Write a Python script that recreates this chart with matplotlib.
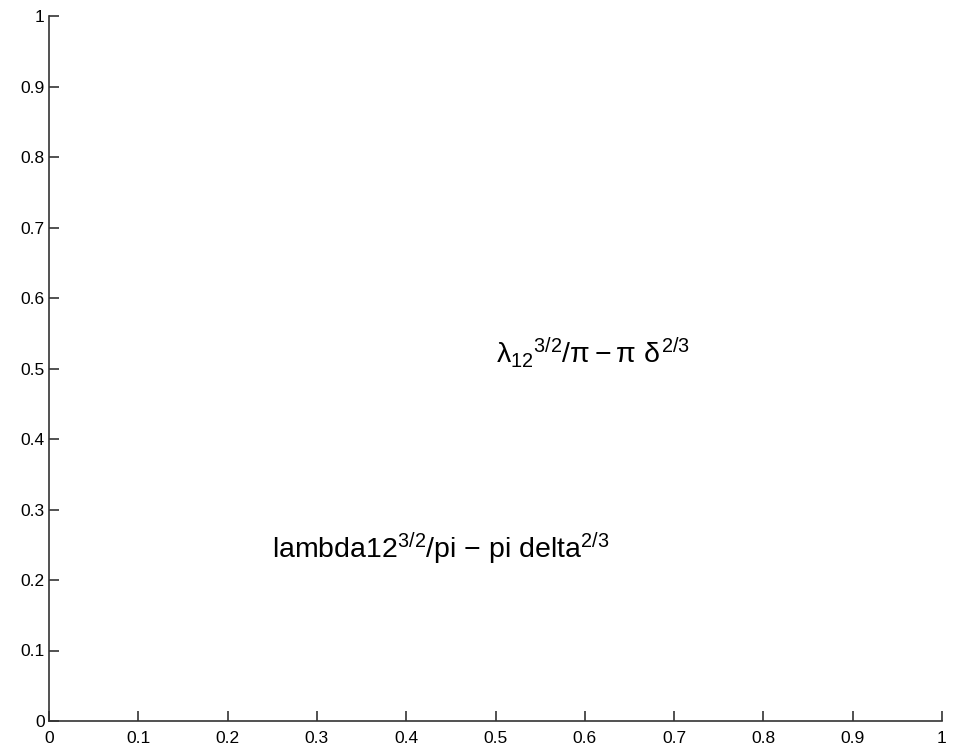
import matplotlib
matplotlib.use("Agg")
import matplotlib.pyplot as plt

plt.rcParams['font.family'] = ['Liberation Sans', 'DejaVu Sans']
plt.rcParams['mathtext.fontset'] = 'custom'
plt.rcParams['mathtext.rm'] = 'Liberation Sans'
plt.rcParams['mathtext.it'] = 'Liberation Sans'
plt.rcParams['mathtext.bf'] = 'Liberation Sans:bold'
plt.rcParams['mathtext.sf'] = 'Liberation Sans'

tick_values = [0, 0.1, 0.2, 0.3, 0.4, 0.5, 0.6, 0.7, 0.8, 0.9, 1]
tick_labels = ['0', '0.1', '0.2', '0.3', '0.4', '0.5', '0.6', '0.7', '0.8', '0.9', '1']

texts = [r'$\lambda_{12}{}^{3/2}/\pi - \pi\ \delta^{2/3}$',
         r'lambda12$^{3/2}$/pi $-$ pi delta$^{2/3}$']
text_x = [0.5, 0.25]
text_y = [0.522, 0.244]

fig = plt.figure(figsize=(9.57, 7.5), dpi=100)
ax = fig.add_axes([49/957, 1-721/750, 893/957, 705/750])
ax.set_xlim(0, 1)
ax.set_ylim(0, 1)
ax.set_xticks(tick_values)
ax.set_xticklabels(tick_labels)
ax.set_yticks(tick_values)
ax.set_yticklabels(tick_labels)
for s in ['top', 'right']:
    ax.spines[s].set_visible(False)
for s in ['left', 'bottom']:
    ax.spines[s].set_linewidth(1.2)
    ax.spines[s].set_color('#333333')
ax.tick_params(direction='in', length=7, width=1.2, color='#333333', labelsize=12.5)
ax.tick_params(axis='x', pad=7)
ax.tick_params(axis='y', pad=3)

for t, x, y in zip(texts, text_x, text_y):
    ax.text(x, y, t, fontsize=20.5, ha='left', va='center')

fig.savefig('out.png', dpi=100)
